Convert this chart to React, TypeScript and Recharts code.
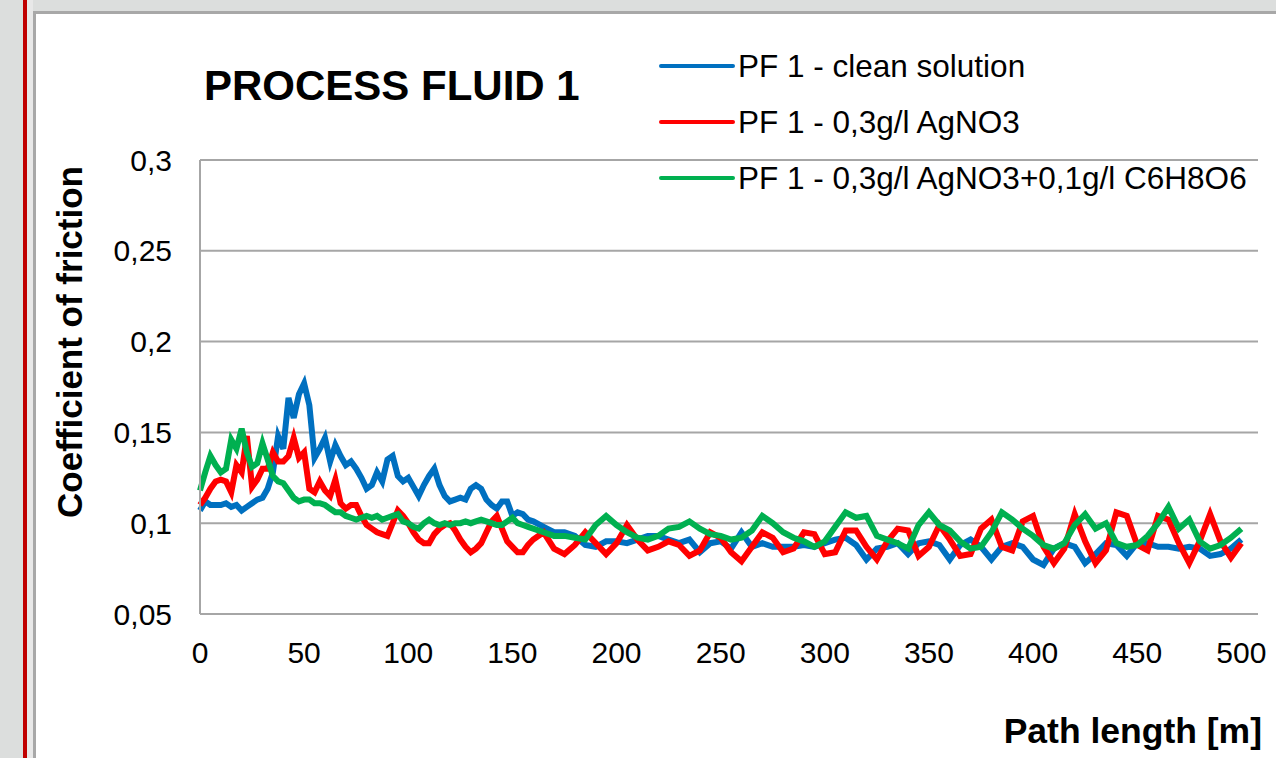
import React from 'react';
import { LineChart, Line, XAxis, YAxis, CartesianGrid, Legend } from 'recharts';

// path length [m]: every 2.5 m up to 160 m, then every 5 m
const pathLength = [
  ...Array.from({ length: 65 }, (_, i) => i * 2.5),
  ...Array.from({ length: 68 }, (_, i) => 165 + i * 5),
];

const cleanSolution = [
  // 0 - 160 m
  0.107, 0.112, 0.110, 0.110, 0.110, 0.111, 0.109, 0.110, 0.107, 0.109,
  0.111, 0.113, 0.114, 0.119, 0.128, 0.148, 0.141, 0.169, 0.158, 0.171,
  0.177, 0.165, 0.136, 0.141, 0.147, 0.134, 0.143, 0.137, 0.132, 0.134,
  0.130, 0.125, 0.119, 0.121, 0.128, 0.123, 0.135, 0.137, 0.126, 0.123,
  0.125, 0.120, 0.115, 0.121, 0.126, 0.130, 0.121, 0.115, 0.112, 0.113,
  0.114, 0.113, 0.119, 0.121, 0.119, 0.113, 0.110, 0.108, 0.112, 0.112,
  0.104, 0.106, 0.105, 0.102, 0.101,
  // 165 - 500 m
  0.098, 0.095, 0.095, 0.093, 0.088, 0.087, 0.090,
  0.090, 0.089, 0.091, 0.093, 0.093, 0.091, 0.089, 0.091, 0.084, 0.089,
  0.090, 0.086, 0.095, 0.087, 0.089, 0.087, 0.087, 0.087, 0.088, 0.087,
  0.089, 0.091, 0.092, 0.088, 0.080, 0.086, 0.087, 0.089, 0.083, 0.089,
  0.090, 0.088, 0.080, 0.088, 0.091, 0.087, 0.080, 0.087, 0.089, 0.087,
  0.080, 0.077, 0.086, 0.089, 0.087, 0.078, 0.083, 0.089, 0.088, 0.082,
  0.089, 0.089, 0.087, 0.087, 0.086, 0.087, 0.086, 0.082, 0.083, 0.086,
  0.091,
];

const agno3 = [
  // 0 - 160 m
  0.110, 0.114, 0.119, 0.123, 0.124, 0.123, 0.117, 0.132, 0.128, 0.148,
  0.120, 0.124, 0.130, 0.130, 0.139, 0.134, 0.134, 0.137, 0.147, 0.136,
  0.139, 0.119, 0.117, 0.123, 0.118, 0.115, 0.124, 0.111, 0.108, 0.110,
  0.110, 0.104, 0.099, 0.097, 0.095, 0.094, 0.093, 0.100, 0.107, 0.104,
  0.100, 0.095, 0.091, 0.089, 0.089, 0.094, 0.097, 0.099, 0.100, 0.096,
  0.091, 0.087, 0.084, 0.086, 0.089, 0.095, 0.101, 0.104, 0.097, 0.090,
  0.087, 0.084, 0.084, 0.088, 0.091,
  // 165 - 500 m
  0.095, 0.086, 0.083, 0.088, 0.095, 0.089, 0.083,
  0.089, 0.099, 0.091, 0.085, 0.087, 0.090, 0.088, 0.082, 0.085, 0.095,
  0.092, 0.084, 0.079, 0.087, 0.095, 0.092, 0.084, 0.086, 0.095, 0.094,
  0.083, 0.084, 0.096, 0.096, 0.087, 0.080, 0.090, 0.097, 0.096, 0.082,
  0.087, 0.099, 0.091, 0.082, 0.083, 0.097, 0.102, 0.087, 0.085, 0.101,
  0.104, 0.087, 0.078, 0.086, 0.105, 0.090, 0.078, 0.085, 0.106, 0.104,
  0.088, 0.085, 0.104, 0.102, 0.089, 0.078, 0.090, 0.105, 0.090, 0.081,
  0.089,
];

const agno3Ascorbic = [
  // 0 - 160 m
  0.118, 0.128, 0.137, 0.132, 0.128, 0.130, 0.146, 0.141, 0.152, 0.139,
  0.131, 0.133, 0.144, 0.135, 0.126, 0.123, 0.122, 0.118, 0.114, 0.112,
  0.113, 0.113, 0.111, 0.111, 0.110, 0.108, 0.106, 0.106, 0.104, 0.103,
  0.102, 0.103, 0.104, 0.103, 0.104, 0.102, 0.103, 0.104, 0.105, 0.101,
  0.100, 0.098, 0.097, 0.100, 0.102, 0.100, 0.099, 0.100, 0.099, 0.100,
  0.100, 0.101, 0.100, 0.101, 0.102, 0.101, 0.100, 0.099, 0.099, 0.101,
  0.103, 0.100, 0.099, 0.098, 0.097,
  // 165 - 500 m
  0.095, 0.093, 0.093, 0.092, 0.091, 0.099, 0.104,
  0.099, 0.095, 0.092, 0.091, 0.093, 0.097, 0.098, 0.101, 0.097, 0.094,
  0.093, 0.091, 0.092, 0.096, 0.104, 0.100, 0.095, 0.092, 0.090, 0.087,
  0.090, 0.098, 0.106, 0.103, 0.104, 0.093, 0.091, 0.089, 0.086, 0.099,
  0.106, 0.099, 0.096, 0.090, 0.086, 0.087, 0.095, 0.106, 0.102, 0.097,
  0.093, 0.088, 0.086, 0.089, 0.099, 0.105, 0.097, 0.100, 0.089, 0.087,
  0.088, 0.093, 0.100, 0.109, 0.097, 0.102, 0.090, 0.086, 0.088, 0.092,
  0.097,
];

const seriesNames = ['PF 1 - clean solution', 'PF 1 - 0,3g/l AgNO3', 'PF 1 - 0,3g/l AgNO3+0,1g/l C6H8O6'];
const seriesColors = ['#0070c0', '#ff0000', '#00b050'];

const xTicks = [0, 50, 100, 150, 200, 250, 300, 350, 400, 450, 500];
const yTicks = [0.05, 0.1, 0.15, 0.2, 0.25, 0.3];
const yTickLabels = ['0,05', '0,1', '0,15', '0,2', '0,25', '0,3'];

const data = pathLength.map((x, i) => ({
  x,
  clean: cleanSolution[i],
  agno3: agno3[i],
  mix: agno3Ascorbic[i],
}));

const FONT = '"Liberation Sans", Arial, sans-serif';

// own legend so the order stays as in the original
const renderLegend = () => (
  <div style={{ fontFamily: FONT }}>
    {seriesNames.map((name, i) => (
      <div key={name} style={{ display: 'flex', alignItems: 'center', height: 56 }}>
        <div style={{ width: 76, height: 4, background: seriesColors[i], borderRadius: 2 }} />
        <span style={{ marginLeft: 3, fontSize: 31.5, color: '#000', whiteSpace: 'nowrap' }}>{name}</span>
      </div>
    ))}
  </div>
);

export default function App() {
  return (
    <div style={{ position: 'absolute', left: 0, top: 0, width: 1276, height: 758, overflow: 'hidden', background: '#dcdedd', fontFamily: FONT }}>
      <div style={{ position: 'absolute', left: 23, top: 0, width: 4, height: 758, background: '#c00000' }} />
      <div style={{ position: 'absolute', left: 27, top: 0, width: 6, height: 758, background: '#e8e8e8' }} />
      <div style={{ position: 'absolute', left: 33, top: 11, right: -4, bottom: -4, background: '#fff', border: '3px solid #a8a8a8' }} />

      <div style={{ position: 'absolute', left: 204, top: 62, fontSize: 42, fontWeight: 'bold', color: '#000', whiteSpace: 'nowrap' }}>
        PROCESS FLUID 1
      </div>
      <div style={{ position: 'absolute', left: 70, top: 342, transform: 'translate(-50%, -50%) rotate(-90deg)', fontSize: 35, fontWeight: 'bold', whiteSpace: 'nowrap' }}>
        Coefficient of friction
      </div>
      <div style={{ position: 'absolute', right: 14, top: 711, fontSize: 35.5, fontWeight: 'bold', whiteSpace: 'nowrap' }}>
        Path length [m]
      </div>

      <div style={{ position: 'absolute', left: 0, top: 0 }}>
        <LineChart width={1276} height={758} data={data} margin={{ top: 160, right: 18, bottom: 84, left: 100 }}>
          <CartesianGrid horizontal vertical={false} stroke="#a6a6a6" strokeWidth={2} />
          <XAxis
            dataKey="x"
            type="number"
            domain={[0, 508]}
            ticks={xTicks}
            height={60}
            axisLine={{ stroke: '#a6a6a6', strokeWidth: 2 }}
            tickLine={false}
            tickSize={0}
            tickMargin={28}
            tick={{ fill: '#000', fontSize: 30, fontFamily: FONT }}
          />
          <YAxis
            type="number"
            domain={[0.05, 0.3]}
            ticks={yTicks}
            width={100}
            axisLine={{ stroke: '#a6a6a6', strokeWidth: 2 }}
            tickLine={false}
            tickSize={0}
            tickMargin={28}
            tickFormatter={(v: number) => yTickLabels[yTicks.findIndex((t) => Math.abs(t - v) < 1e-6)] ?? String(v)}
            tick={{ fill: '#000', fontSize: 30, fontFamily: FONT }}
          />
          <Legend
            layout="vertical"
            align="center"
            verticalAlign="middle"
            content={renderLegend}
            wrapperStyle={{ position: 'absolute', left: 659, top: 38, width: 620 }}
          />
          <Line type="linear" dataKey="clean" name={seriesNames[0]} stroke={seriesColors[0]} strokeWidth={6} dot={false} isAnimationActive={false} />
          <Line type="linear" dataKey="agno3" name={seriesNames[1]} stroke={seriesColors[1]} strokeWidth={6} dot={false} isAnimationActive={false} />
          <Line type="linear" dataKey="mix" name={seriesNames[2]} stroke={seriesColors[2]} strokeWidth={6} dot={false} isAnimationActive={false} />
        </LineChart>
      </div>
    </div>
  );
}
